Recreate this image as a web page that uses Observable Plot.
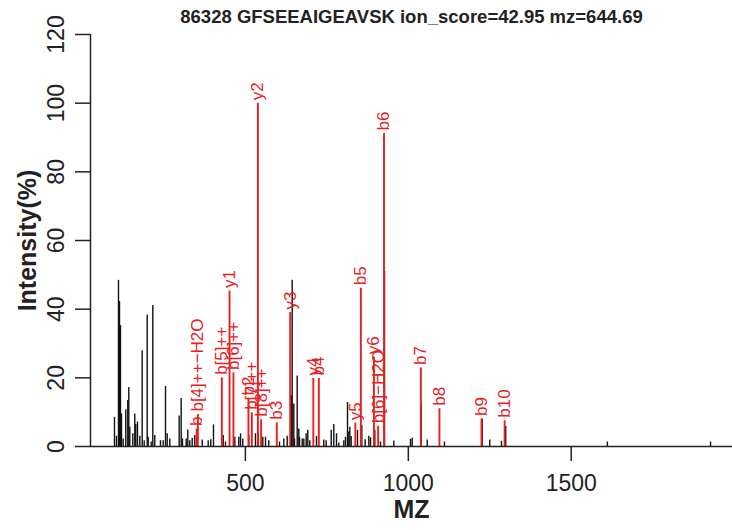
<!DOCTYPE html>
<html>
<head>
<meta charset="utf-8">
<script src="https://cdn.jsdelivr.net/npm/d3@7"></script>
<script src="https://cdn.jsdelivr.net/npm/@observablehq/plot@0.6"></script>
<style>
  html, body { margin: 0; padding: 0; background: #fff; }
  #chart svg { display: block; }
</style>
</head>
<body>
<div id="chart"></div>
<script>
const title = "86328 GFSEEAIGEAVSK ion_score=42.95 mz=644.69";
const xLabel = "MZ";
const yLabel = "Intensity(%)";
const xTicks = [500, 1000, 1500];
const yTicks = [0, 20, 40, 60, 80, 100, 120];

// unmatched peaks (black)
const peakMz = [98.2,104.4,110.5,113.6,116.6,119.7,124.9,132.9,139.0,142.1,145.2,154.4,160.5,163.6,168.8,175.9,183.2,189.4,198.6,201.7,210.9,215.8,221.9,239.4,247.7,254.8,260.0,268.0,296.8,302.9,306.9,318.3,323.2,329.3,336.7,344.7,367.4,385.8,393.8,402.1,431.9,438.9,467.5,479.7,485.0,492.0,510.4,531.0,539.3,553.4,561.7,571.8,604.7,617.9,628.3,641.5,643.6,648.6,650.7,659.0,664.0,666.1,674.4,679.3,686.6,691.5,697.7,718.2,740.6,748.0,763.4,771.3,779.6,786.7,802.0,807.2,813.4,817.4,820.5,824.7,844.1,857.3,867.6,878.8,884.0,897.2,914.7,927.0,955.5,1006.8,1012.0,1039.6,1058.0,1111.0,1226.8,1250.0,1286.0,1299.0,1611.0,1927.6];
const peakInt = [8.5,3.0,48.4,42.2,35.2,9.5,2.2,10.7,13.4,17.2,5.6,3.7,9.5,6.4,7.1,3.0,27.9,1.7,38.3,2.7,1.3,41.1,3.2,1.7,1.7,17.5,3.7,2.2,8.9,14.0,2.2,2.2,4.8,1.7,2.4,3.2,1.9,1.7,2.0,6.3,3.2,1.3,2.7,2.7,3.7,2.2,3.2,3.7,3.7,2.7,2.7,1.7,1.3,2.2,3.0,14.8,48.4,12.4,2.2,20.5,5.1,2.7,2.2,2.2,3.7,4.7,1.7,2.9,1.9,1.7,4.7,6.4,3.7,1.0,1.7,2.7,12.8,4.2,5.6,2.9,4.7,6.1,2.0,3.0,2.5,4.7,1.3,51.0,1.6,2.1,2.4,12.4,1.9,1.3,8.0,1.9,1.5,5.8,1.3,1.3];

// matched fragment ions (red)
const ionLabel = ["b","b[4]++\u2212H2O","b[5]++","y1","b[6]++","b2","b[7]++","y2","b[8]++","b3","y3","y4","b4","y5","b5","y6","b[6]\u2212H2O","b6","b7","b8","b9","b10"];
const ionMz    = [350.5,354.2,427.71,451.32,463.24,509.31,519.78,538.35,548.28,596.34,637.42,708.46,725.38,837.50,854.42,894.52,907.45,925.46,1038.54,1095.56,1224.61,1295.64];
const ionInt   = [5.1,9.3,20.0,45.3,21.4,14.0,9.8,100,7.8,6.9,39.0,19.8,19.8,6.8,46.1,26.0,5.9,91.2,22.9,11.0,8.0,7.5];

const xDomain = [24.6, 1995];
const peaks = peakMz.map((mz, i) => ({mz, intensity: peakInt[i]}));
const ions = ionMz.map((mz, i) => ({mz, intensity: ionInt[i], label: ionLabel[i]}));

const red = "#e8201f";
const ink = "#222";
const font = "Liberation Sans, Arial, Helvetica, sans-serif";

const chart = Plot.plot({
  width: 732,
  height: 530,
  marginLeft: 90,
  marginRight: 0,
  marginTop: 34,
  marginBottom: 84,
  style: {fontFamily: font, background: "#fff", color: ink},
  x: {domain: xDomain},
  y: {domain: [0, 120]},
  marks: [
    Plot.ruleX(peaks, {x: "mz", y1: 0, y2: "intensity", stroke: "#111", strokeWidth: 1.4}),
    Plot.ruleX(ions, {x: "mz", y1: 0, y2: "intensity", stroke: red, strokeWidth: 1.9}),
    Plot.text(ions, {x: "mz", y: "intensity", text: "label", rotate: -90, textAnchor: "start", lineAnchor: "middle", dy: -3, fill: red, fontSize: 17}),
    Plot.ruleY([0], {stroke: ink, strokeWidth: 1.5}),
    Plot.ruleX([xDomain[0]], {y1: 0, y2: 120, stroke: ink, strokeWidth: 1.5}),
    Plot.axisY({ticks: yTicks, tickFormat: d => String(d), tickSize: 15, tickPadding: 12, tickRotate: -90, fontSize: 23, stroke: ink, strokeWidth: 1.5, label: null}),
    Plot.axisX({ticks: xTicks, tickFormat: d => String(d), tickSize: 15, tickPadding: 13, fontSize: 23, stroke: ink, strokeWidth: 1.5, label: null}),
    Plot.text([xLabel], {frameAnchor: "bottom", dy: 63, textAnchor: "middle", lineAnchor: "middle", fontSize: 25, fontWeight: "bold", fill: ink}),
    Plot.text([yLabel], {frameAnchor: "left", dx: -63, rotate: -90, textAnchor: "middle", lineAnchor: "middle", fontSize: 25, fontWeight: "bold", fill: ink}),
    Plot.text([title], {frameAnchor: "top", dy: -17, textAnchor: "middle", lineAnchor: "middle", fontSize: 18.5, fontWeight: "bold", fill: ink})
  ]
});
document.getElementById("chart").appendChild(chart);
</script>
</body>
</html>
